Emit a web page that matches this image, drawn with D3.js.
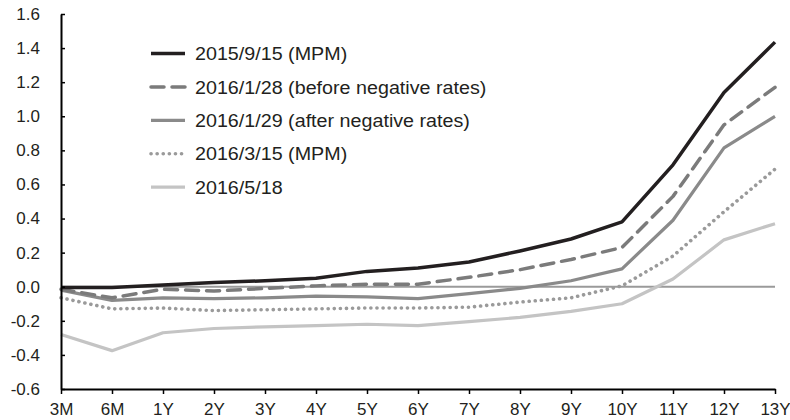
<!DOCTYPE html>
<html><head><meta charset="utf-8">
<script src="https://cdn.jsdelivr.net/npm/d3@7/dist/d3.min.js"></script>
<style>body{margin:0;background:#fff}svg{display:block}text{font-family:"Liberation Sans",Arial,sans-serif;fill:#231f20}</style>
</head><body><svg id="c" width="790" height="420"></svg>
<script>
const categories = ["3M","6M","1Y","2Y","3Y","4Y","5Y","6Y","7Y","8Y","9Y","10Y","11Y","12Y","13Y"];
const yTicks = [-0.6,-0.4,-0.2,0.0,0.2,0.4,0.6,0.8,1.0,1.2,1.4,1.6];
const seriesNames = ["2015/9/15 (MPM)","2016/1/28 (before negative rates)","2016/1/29 (after negative rates)","2016/3/15 (MPM)","2016/5/18"];
const s20150915 = [-0.005,-0.005,0.01,0.025,0.035,0.05,0.09,0.11,0.145,0.21,0.28,0.38,0.715,1.14,1.435];
const s20160128 = [-0.015,-0.065,-0.015,-0.025,-0.01,0.005,0.015,0.015,0.055,0.10,0.16,0.23,0.53,0.95,1.17];
const s20160129 = [-0.02,-0.08,-0.065,-0.07,-0.065,-0.055,-0.06,-0.07,-0.04,-0.01,0.035,0.105,0.39,0.815,1.0];
const s20160315 = [-0.065,-0.13,-0.125,-0.14,-0.135,-0.13,-0.125,-0.125,-0.12,-0.09,-0.065,0.005,0.18,0.44,0.69];
const s20160518 = [-0.28,-0.375,-0.27,-0.245,-0.235,-0.228,-0.22,-0.228,-0.205,-0.18,-0.145,-0.10,0.045,0.275,0.37];

const styles = [
  {color:"#231f20", width:3.5, dash:null, cap:"butt"},
  {color:"#7b7b7b", width:3.5, dash:"13,8", cap:"round"},
  {color:"#8a8a8a", width:3.2, dash:null, cap:"butt"},
  {color:"#9a9a9a", width:3.6, dash:"0.1,6", cap:"round"},
  {color:"#c4c4c4", width:3.2, dash:null, cap:"butt"}
];
const data = [s20150915,s20160128,s20160129,s20160315,s20160518];

const svg = d3.select("#c");
const x = d3.scalePoint().domain(categories).range([61,775]);
const y = d3.scaleLinear().domain([-0.6,1.6]).range([389,14]);

svg.append("line").attr("x1",x("3M")).attr("x2",x("13Y")).attr("y1",y(0)).attr("y2",y(0))
  .attr("stroke","#9a9a9a").attr("stroke-width",2);

const line = d3.line().x((d,i)=>x(categories[i])).y(d=>y(d));
for (let k=data.length-1;k>=0;k--){
  const st=styles[k];
  svg.append("path").datum(data[k]).attr("d",line).attr("fill","none")
    .attr("stroke",st.color).attr("stroke-width",st.width)
    .attr("stroke-dasharray",st.dash).attr("stroke-linecap",st.cap).attr("stroke-linejoin","round");
}

const yAxis = d3.axisLeft(y).tickValues(yTicks).tickSizeInner(-4).tickSizeOuter(0).tickPadding(21);
const gy = svg.append("g").attr("transform","translate(61,0)").call(yAxis);
gy.select(".domain").attr("stroke","#000").attr("stroke-width",2);
gy.selectAll(".tick line").attr("stroke","#000").attr("stroke-width",1.5);
gy.selectAll(".tick text").style("font-size","17px").attr("fill","#231f20").text(d=>d3.format(".1f")(d).replace("−","-"));

const xAxis = d3.axisBottom(x).tickSizeInner(5).tickSizeOuter(0).tickPadding(9);
const gx = svg.append("g").attr("transform","translate(0,389)").call(xAxis);
gx.select(".domain").attr("stroke","#000").attr("stroke-width",2);
gx.selectAll(".tick line").attr("stroke","#000").attr("stroke-width",1.5);
gx.selectAll(".tick text").style("font-size","17px").attr("fill","#231f20");

const lg = svg.append("g");
seriesNames.forEach((n,i)=>{
  const yy = 53.5 + i*33.4;
  const st = styles[i];
  lg.append("line").attr("x1",151).attr("x2",185).attr("y1",yy).attr("y2",yy)
    .attr("stroke",st.color).attr("stroke-width",st.width)
    .attr("stroke-dasharray",st.dash).attr("stroke-linecap",st.cap);
  lg.append("text").attr("transform",`translate(195,${yy}) scale(1.065,1)`).attr("dy","0.36em").style("font-size","18.5px").text(n);
});
</script></body></html>
